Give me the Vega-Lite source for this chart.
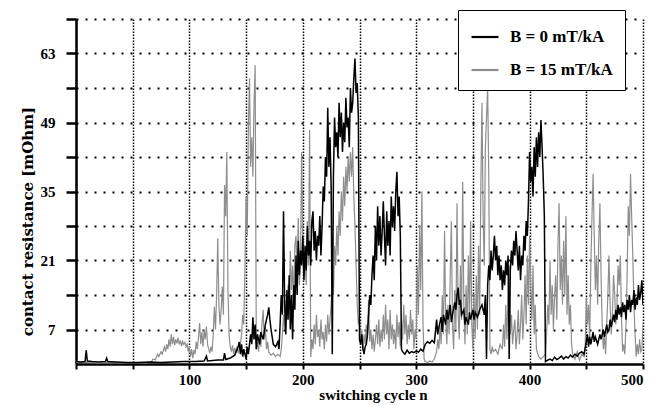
{
  "$schema": "https://vega.github.io/schema/vega-lite/v6.json",
  "width": 567,
  "height": 345,
  "autosize": {"type": "none"},
  "padding": {"left": 76, "top": 19, "right": 9, "bottom": 41},
  "background": "white",
  "config": {"view": {"stroke": null}},
  "datasets": {
    "b0": [
      {"n":0,"r":0.5},{"n":4,"r":0.4},{"n":8,"r":0.5},{"n":9,"r":2.8},{"n":10,"r":0.6},{"n":14,"r":0.5},{"n":20,"r":0.4},{"n":26,"r":0.5},{"n":27,"r":1.2},{"n":28,"r":0.5},{"n":35,"r":0.4},{"n":45,"r":0.3},{"n":55,"r":0.3},{"n":65,"r":0.4},{"n":75,"r":0.3},{"n":85,"r":0.4},{"n":95,"r":0.5},{"n":105,"r":0.5},{"n":113,"r":0.6},{"n":115,"r":1.6},{"n":116,"r":0.6},{"n":125,"r":0.8},{"n":130,"r":0.8},{"n":131,"r":2.2},{"n":132,"r":0.9},{"n":136,"r":1.2},{"n":140,"r":1.8},{"n":143,"r":3.5},{"n":144,"r":4.5},{"n":145,"r":2.0},{"n":146,"r":4.0},{"n":147,"r":1.5},{"n":148,"r":3.0},{"n":150,"r":1.0},{"n":151,"r":3.5},{"n":152,"r":2.0},{"n":154,"r":6.0},{"n":155,"r":4.0},{"n":156,"r":9.5},{"n":157,"r":5.0},{"n":158,"r":8.0},{"n":159,"r":3.0},{"n":160,"r":6.0},{"n":162,"r":4.0},{"n":163,"r":6.5},{"n":165,"r":5.0},{"n":167,"r":8.0},{"n":169,"r":10.0},{"n":170,"r":11.5},{"n":171,"r":9.0},{"n":172,"r":7.0},{"n":174,"r":4.0},{"n":176,"r":3.5},{"n":178,"r":4.5},{"n":179,"r":3.0},{"n":180,"r":8.0},{"n":181,"r":14.0},{"n":182,"r":10.0},{"n":183,"r":31.0},{"n":184,"r":12.0},{"n":185,"r":6.0},{"n":186,"r":15.0},{"n":187,"r":9.0},{"n":188,"r":18.0},{"n":189,"r":7.0},{"n":190,"r":14.0},{"n":191,"r":5.0},{"n":192,"r":16.0},{"n":193,"r":11.0},{"n":194,"r":22.0},{"n":195,"r":14.0},{"n":196,"r":25.0},{"n":197,"r":18.0},{"n":198,"r":23.0},{"n":199,"r":20.0},{"n":200,"r":26.0},{"n":201,"r":17.0},{"n":202,"r":24.0},{"n":203,"r":19.0},{"n":204,"r":28.0},{"n":205,"r":22.0},{"n":206,"r":25.0},{"n":207,"r":20.0},{"n":208,"r":29.0},{"n":209,"r":31.0},{"n":210,"r":23.0},{"n":211,"r":27.0},{"n":212,"r":21.0},{"n":213,"r":26.0},{"n":214,"r":24.0},{"n":215,"r":30.0},{"n":216,"r":22.0},{"n":217,"r":28.0},{"n":218,"r":36.0},{"n":219,"r":33.0},{"n":220,"r":42.0},{"n":221,"r":38.0},{"n":222,"r":52.0},{"n":223,"r":40.0},{"n":224,"r":46.0},{"n":225,"r":36.0},{"n":226,"r":2.0},{"n":227,"r":38.0},{"n":228,"r":50.0},{"n":229,"r":44.0},{"n":230,"r":47.0},{"n":231,"r":42.0},{"n":232,"r":53.0},{"n":233,"r":46.0},{"n":234,"r":51.0},{"n":235,"r":43.0},{"n":236,"r":49.0},{"n":237,"r":45.0},{"n":238,"r":54.0},{"n":239,"r":48.0},{"n":240,"r":50.0},{"n":241,"r":44.0},{"n":242,"r":56.0},{"n":243,"r":51.0},{"n":244,"r":53.0},{"n":245,"r":58.0},{"n":246,"r":62.0},{"n":247,"r":55.0},{"n":248,"r":57.0},{"n":249,"r":50.0},{"n":250,"r":5.0},{"n":251,"r":4.0},{"n":252,"r":6.0},{"n":253,"r":3.0},{"n":254,"r":2.0},{"n":255,"r":3.5},{"n":256,"r":4.0},{"n":257,"r":6.0},{"n":258,"r":10.0},{"n":259,"r":14.0},{"n":260,"r":12.0},{"n":261,"r":18.0},{"n":262,"r":22.0},{"n":263,"r":17.0},{"n":264,"r":28.0},{"n":265,"r":21.0},{"n":266,"r":32.0},{"n":267,"r":24.0},{"n":268,"r":30.0},{"n":269,"r":22.0},{"n":270,"r":27.0},{"n":271,"r":33.0},{"n":272,"r":26.0},{"n":273,"r":20.0},{"n":274,"r":31.0},{"n":275,"r":24.0},{"n":276,"r":29.0},{"n":277,"r":22.0},{"n":278,"r":34.0},{"n":279,"r":28.0},{"n":280,"r":32.0},{"n":281,"r":27.0},{"n":282,"r":35.0},{"n":283,"r":39.0},{"n":284,"r":30.0},{"n":285,"r":34.0},{"n":286,"r":26.0},{"n":287,"r":3.0},{"n":288,"r":2.5},{"n":290,"r":2.0},{"n":292,"r":2.8},{"n":294,"r":2.2},{"n":296,"r":2.5},{"n":298,"r":2.3},{"n":300,"r":2.6},{"n":302,"r":2.4},{"n":304,"r":3.0},{"n":306,"r":2.6},{"n":308,"r":4.0},{"n":310,"r":4.5},{"n":312,"r":4.2},{"n":314,"r":4.8},{"n":316,"r":4.3},{"n":318,"r":9.0},{"n":319,"r":6.0},{"n":320,"r":7.5},{"n":322,"r":9.5},{"n":323,"r":6.5},{"n":324,"r":10.0},{"n":326,"r":8.0},{"n":327,"r":11.0},{"n":328,"r":9.0},{"n":330,"r":12.0},{"n":331,"r":8.5},{"n":332,"r":10.0},{"n":334,"r":12.5},{"n":335,"r":11.0},{"n":336,"r":14.0},{"n":337,"r":15.5},{"n":338,"r":12.0},{"n":339,"r":13.0},{"n":340,"r":10.0},{"n":342,"r":11.0},{"n":343,"r":8.0},{"n":344,"r":9.5},{"n":346,"r":8.0},{"n":347,"r":10.5},{"n":348,"r":9.0},{"n":350,"r":11.0},{"n":351,"r":9.0},{"n":352,"r":10.5},{"n":354,"r":9.5},{"n":356,"r":11.0},{"n":358,"r":12.0},{"n":360,"r":10.0},{"n":361,"r":14.0},{"n":362,"r":1.0},{"n":363,"r":16.0},{"n":364,"r":20.0},{"n":365,"r":17.0},{"n":366,"r":23.0},{"n":367,"r":19.0},{"n":368,"r":22.0},{"n":369,"r":26.0},{"n":370,"r":21.0},{"n":371,"r":24.0},{"n":372,"r":18.0},{"n":373,"r":22.0},{"n":374,"r":17.0},{"n":375,"r":20.0},{"n":376,"r":15.0},{"n":377,"r":19.0},{"n":378,"r":16.0},{"n":379,"r":21.0},{"n":380,"r":18.0},{"n":381,"r":22.0},{"n":382,"r":1.0},{"n":383,"r":19.0},{"n":384,"r":23.0},{"n":385,"r":20.0},{"n":386,"r":25.0},{"n":387,"r":22.0},{"n":388,"r":27.0},{"n":389,"r":23.0},{"n":390,"r":19.0},{"n":391,"r":24.0},{"n":392,"r":17.0},{"n":393,"r":22.0},{"n":394,"r":20.0},{"n":395,"r":26.0},{"n":396,"r":23.0},{"n":397,"r":29.0},{"n":398,"r":26.0},{"n":399,"r":33.0},{"n":400,"r":43.0},{"n":401,"r":37.0},{"n":402,"r":40.0},{"n":403,"r":34.0},{"n":404,"r":44.0},{"n":405,"r":38.0},{"n":406,"r":46.0},{"n":407,"r":40.0},{"n":408,"r":47.0},{"n":409,"r":42.0},{"n":410,"r":49.5},{"n":411,"r":44.0},{"n":412,"r":38.0},{"n":413,"r":30.0},{"n":414,"r":0.5},{"n":416,"r":0.8},{"n":418,"r":1.0},{"n":420,"r":0.7},{"n":422,"r":1.4},{"n":424,"r":0.9},{"n":426,"r":1.2},{"n":428,"r":1.6},{"n":430,"r":1.0},{"n":432,"r":1.5},{"n":434,"r":1.2},{"n":436,"r":1.8},{"n":438,"r":1.4},{"n":440,"r":2.0},{"n":442,"r":1.6},{"n":444,"r":2.2},{"n":446,"r":2.5},{"n":448,"r":2.0},{"n":450,"r":4.5},{"n":451,"r":6.0},{"n":452,"r":3.5},{"n":453,"r":5.5},{"n":454,"r":4.0},{"n":456,"r":6.5},{"n":457,"r":4.5},{"n":458,"r":5.5},{"n":460,"r":4.0},{"n":462,"r":6.0},{"n":463,"r":5.0},{"n":465,"r":7.0},{"n":466,"r":5.5},{"n":468,"r":8.0},{"n":469,"r":6.5},{"n":470,"r":7.0},{"n":471,"r":9.0},{"n":472,"r":7.5},{"n":474,"r":10.0},{"n":475,"r":8.5},{"n":476,"r":11.0},{"n":477,"r":9.0},{"n":478,"r":12.0},{"n":479,"r":10.0},{"n":480,"r":11.5},{"n":481,"r":9.5},{"n":482,"r":12.5},{"n":483,"r":10.5},{"n":484,"r":12.0},{"n":485,"r":9.0},{"n":486,"r":13.0},{"n":487,"r":11.0},{"n":488,"r":14.0},{"n":489,"r":10.5},{"n":490,"r":13.0},{"n":491,"r":12.0},{"n":492,"r":15.0},{"n":493,"r":11.0},{"n":494,"r":13.5},{"n":495,"r":12.0},{"n":496,"r":16.0},{"n":497,"r":13.0},{"n":498,"r":14.5},{"n":499,"r":17.0},{"n":500,"r":12.0}
    ],
    "b15": [
      {"n":0,"r":0.3},{"n":10,"r":0.3},{"n":20,"r":0.2},{"n":30,"r":0.3},{"n":40,"r":0.2},{"n":50,"r":0.3},{"n":60,"r":0.2},{"n":66,"r":0.3},{"n":68,"r":1.0},{"n":70,"r":0.8},{"n":72,"r":2.0},{"n":73,"r":1.5},{"n":75,"r":2.5},{"n":76,"r":2.0},{"n":78,"r":3.5},{"n":79,"r":2.5},{"n":80,"r":4.0},{"n":81,"r":3.0},{"n":82,"r":5.0},{"n":83,"r":3.5},{"n":84,"r":6.0},{"n":85,"r":4.0},{"n":86,"r":5.5},{"n":87,"r":3.8},{"n":88,"r":5.0},{"n":89,"r":4.2},{"n":90,"r":5.3},{"n":91,"r":4.0},{"n":92,"r":4.8},{"n":93,"r":3.6},{"n":94,"r":4.6},{"n":95,"r":4.0},{"n":96,"r":4.4},{"n":97,"r":3.5},{"n":98,"r":4.0},{"n":99,"r":2.5},{"n":100,"r":3.5},{"n":101,"r":1.5},{"n":102,"r":3.0},{"n":103,"r":1.2},{"n":104,"r":2.8},{"n":105,"r":2.0},{"n":106,"r":4.5},{"n":107,"r":3.0},{"n":108,"r":5.5},{"n":109,"r":8.3},{"n":110,"r":4.0},{"n":111,"r":6.5},{"n":112,"r":3.5},{"n":113,"r":7.0},{"n":114,"r":5.0},{"n":115,"r":7.6},{"n":116,"r":4.0},{"n":117,"r":3.0},{"n":118,"r":2.2},{"n":119,"r":3.5},{"n":120,"r":2.5},{"n":121,"r":6.0},{"n":122,"r":11.6},{"n":123,"r":7.0},{"n":124,"r":14.0},{"n":125,"r":25.5},{"n":126,"r":12.0},{"n":127,"r":8.0},{"n":128,"r":11.0},{"n":129,"r":15.7},{"n":130,"r":10.0},{"n":131,"r":36.3},{"n":132,"r":30.0},{"n":133,"r":43.0},{"n":134,"r":15.0},{"n":135,"r":6.0},{"n":136,"r":3.5},{"n":137,"r":2.5},{"n":138,"r":3.8},{"n":139,"r":2.0},{"n":140,"r":3.2},{"n":141,"r":2.4},{"n":142,"r":3.6},{"n":143,"r":2.2},{"n":144,"r":3.0},{"n":145,"r":4.0},{"n":146,"r":6.0},{"n":147,"r":10.0},{"n":148,"r":8.0},{"n":149,"r":20.0},{"n":150,"r":34.0},{"n":151,"r":26.0},{"n":152,"r":48.0},{"n":153,"r":58.0},{"n":154,"r":40.0},{"n":155,"r":46.0},{"n":156,"r":38.0},{"n":157,"r":53.0},{"n":158,"r":60.6},{"n":159,"r":3.0},{"n":160,"r":4.5},{"n":161,"r":2.5},{"n":162,"r":6.0},{"n":163,"r":3.5},{"n":164,"r":8.0},{"n":165,"r":11.0},{"n":166,"r":5.0},{"n":167,"r":7.5},{"n":168,"r":3.0},{"n":169,"r":4.5},{"n":170,"r":2.4},{"n":172,"r":1.8},{"n":174,"r":2.2},{"n":176,"r":1.5},{"n":178,"r":2.0},{"n":180,"r":1.5},{"n":181,"r":3.0},{"n":182,"r":6.0},{"n":183,"r":10.0},{"n":184,"r":7.0},{"n":185,"r":13.0},{"n":186,"r":9.0},{"n":187,"r":16.0},{"n":188,"r":12.0},{"n":189,"r":23.0},{"n":190,"r":15.0},{"n":191,"r":20.0},{"n":192,"r":12.0},{"n":193,"r":24.0},{"n":194,"r":26.0},{"n":195,"r":18.0},{"n":196,"r":29.6},{"n":197,"r":16.0},{"n":198,"r":22.0},{"n":199,"r":43.0},{"n":200,"r":24.0},{"n":201,"r":18.0},{"n":202,"r":22.0},{"n":203,"r":16.0},{"n":204,"r":29.0},{"n":205,"r":20.0},{"n":206,"r":47.5},{"n":207,"r":1.4},{"n":208,"r":5.0},{"n":209,"r":3.0},{"n":210,"r":8.0},{"n":211,"r":4.0},{"n":212,"r":10.0},{"n":213,"r":5.5},{"n":214,"r":7.0},{"n":215,"r":3.5},{"n":216,"r":9.0},{"n":217,"r":5.0},{"n":218,"r":6.5},{"n":219,"r":3.0},{"n":220,"r":8.0},{"n":221,"r":4.5},{"n":222,"r":10.0},{"n":223,"r":6.0},{"n":224,"r":9.0},{"n":225,"r":12.0},{"n":226,"r":18.0},{"n":227,"r":14.0},{"n":228,"r":24.0},{"n":229,"r":20.0},{"n":230,"r":28.0},{"n":231,"r":22.0},{"n":232,"r":31.0},{"n":233,"r":26.0},{"n":234,"r":35.0},{"n":235,"r":29.0},{"n":236,"r":38.0},{"n":237,"r":32.0},{"n":238,"r":40.0},{"n":239,"r":35.0},{"n":240,"r":42.0},{"n":241,"r":37.0},{"n":242,"r":43.0},{"n":243,"r":38.0},{"n":244,"r":44.0},{"n":245,"r":34.0},{"n":246,"r":28.0},{"n":247,"r":20.0},{"n":248,"r":12.0},{"n":249,"r":8.0},{"n":250,"r":9.5},{"n":251,"r":5.0},{"n":252,"r":7.0},{"n":253,"r":3.0},{"n":254,"r":6.0},{"n":255,"r":4.0},{"n":256,"r":8.0},{"n":257,"r":5.0},{"n":258,"r":13.0},{"n":259,"r":4.5},{"n":260,"r":7.0},{"n":261,"r":3.0},{"n":262,"r":6.0},{"n":263,"r":2.5},{"n":264,"r":5.0},{"n":265,"r":8.0},{"n":266,"r":4.0},{"n":267,"r":9.0},{"n":268,"r":3.5},{"n":269,"r":7.0},{"n":270,"r":4.5},{"n":271,"r":10.0},{"n":272,"r":5.0},{"n":273,"r":12.0},{"n":274,"r":6.0},{"n":275,"r":9.0},{"n":276,"r":3.0},{"n":277,"r":11.0},{"n":278,"r":5.0},{"n":279,"r":8.0},{"n":280,"r":4.0},{"n":281,"r":7.0},{"n":282,"r":3.0},{"n":283,"r":10.0},{"n":284,"r":5.5},{"n":285,"r":8.5},{"n":286,"r":3.5},{"n":287,"r":9.0},{"n":288,"r":5.0},{"n":289,"r":12.0},{"n":290,"r":6.0},{"n":291,"r":10.0},{"n":292,"r":4.0},{"n":293,"r":8.0},{"n":294,"r":5.0},{"n":295,"r":11.0},{"n":296,"r":6.0},{"n":297,"r":9.0},{"n":298,"r":3.0},{"n":299,"r":7.0},{"n":300,"r":5.0},{"n":301,"r":20.0},{"n":302,"r":10.0},{"n":303,"r":28.0},{"n":304,"r":15.0},{"n":305,"r":35.0},{"n":306,"r":8.0},{"n":307,"r":1.0},{"n":308,"r":0.5},{"n":310,"r":0.3},{"n":312,"r":0.6},{"n":314,"r":0.4},{"n":316,"r":1.0},{"n":318,"r":2.5},{"n":319,"r":5.0},{"n":320,"r":3.0},{"n":321,"r":8.0},{"n":322,"r":4.0},{"n":323,"r":14.0},{"n":324,"r":6.0},{"n":325,"r":27.0},{"n":326,"r":9.0},{"n":327,"r":4.0},{"n":328,"r":12.0},{"n":329,"r":6.0},{"n":330,"r":18.0},{"n":331,"r":29.0},{"n":332,"r":8.0},{"n":333,"r":3.0},{"n":334,"r":15.0},{"n":335,"r":7.0},{"n":336,"r":32.6},{"n":337,"r":10.0},{"n":338,"r":5.0},{"n":339,"r":20.0},{"n":340,"r":9.0},{"n":341,"r":37.0},{"n":342,"r":12.0},{"n":343,"r":4.0},{"n":344,"r":16.0},{"n":345,"r":6.0},{"n":346,"r":22.0},{"n":347,"r":10.0},{"n":348,"r":29.0},{"n":349,"r":8.0},{"n":350,"r":3.0},{"n":351,"r":14.0},{"n":352,"r":5.0},{"n":353,"r":18.0},{"n":354,"r":7.0},{"n":355,"r":24.0},{"n":356,"r":10.0},{"n":357,"r":36.0},{"n":358,"r":53.0},{"n":359,"r":30.0},{"n":360,"r":20.0},{"n":361,"r":44.0},{"n":362,"r":50.0},{"n":363,"r":56.0},{"n":364,"r":38.0},{"n":365,"r":3.0},{"n":366,"r":2.0},{"n":367,"r":3.5},{"n":368,"r":2.5},{"n":370,"r":3.0},{"n":372,"r":2.0},{"n":374,"r":4.0},{"n":376,"r":3.0},{"n":377,"r":8.0},{"n":378,"r":3.5},{"n":379,"r":12.0},{"n":380,"r":5.0},{"n":381,"r":14.0},{"n":382,"r":20.0},{"n":383,"r":6.0},{"n":384,"r":10.0},{"n":385,"r":4.0},{"n":386,"r":7.0},{"n":387,"r":9.0},{"n":388,"r":3.0},{"n":389,"r":6.0},{"n":390,"r":11.0},{"n":391,"r":4.0},{"n":392,"r":8.0},{"n":393,"r":14.0},{"n":394,"r":5.0},{"n":395,"r":10.0},{"n":396,"r":18.0},{"n":397,"r":8.0},{"n":398,"r":22.0},{"n":399,"r":12.0},{"n":400,"r":26.0},{"n":401,"r":16.0},{"n":402,"r":9.0},{"n":403,"r":20.0},{"n":404,"r":6.0},{"n":405,"r":12.0},{"n":406,"r":3.0},{"n":408,"r":1.5},{"n":410,"r":1.0},{"n":412,"r":1.5},{"n":414,"r":2.0},{"n":415,"r":6.0},{"n":416,"r":12.0},{"n":417,"r":8.0},{"n":418,"r":21.0},{"n":419,"r":10.0},{"n":420,"r":16.0},{"n":421,"r":7.0},{"n":422,"r":13.7},{"n":423,"r":18.0},{"n":424,"r":9.0},{"n":425,"r":24.0},{"n":426,"r":32.6},{"n":427,"r":15.0},{"n":428,"r":22.0},{"n":429,"r":12.0},{"n":430,"r":25.0},{"n":431,"r":14.0},{"n":432,"r":30.0},{"n":433,"r":10.0},{"n":434,"r":18.0},{"n":435,"r":8.0},{"n":436,"r":12.0},{"n":437,"r":4.0},{"n":438,"r":2.0},{"n":440,"r":1.0},{"n":442,"r":2.5},{"n":444,"r":0.8},{"n":446,"r":2.0},{"n":448,"r":1.5},{"n":449,"r":3.0},{"n":450,"r":13.5},{"n":451,"r":8.0},{"n":452,"r":12.0},{"n":453,"r":5.0},{"n":454,"r":20.0},{"n":455,"r":30.0},{"n":456,"r":38.6},{"n":457,"r":26.0},{"n":458,"r":15.0},{"n":459,"r":22.0},{"n":460,"r":12.0},{"n":461,"r":25.0},{"n":462,"r":32.6},{"n":463,"r":18.0},{"n":464,"r":8.0},{"n":465,"r":3.0},{"n":466,"r":6.0},{"n":467,"r":2.0},{"n":468,"r":8.0},{"n":469,"r":14.0},{"n":470,"r":22.0},{"n":471,"r":12.0},{"n":472,"r":6.0},{"n":473,"r":10.0},{"n":474,"r":18.0},{"n":475,"r":14.5},{"n":476,"r":8.0},{"n":477,"r":12.0},{"n":478,"r":20.0},{"n":479,"r":16.0},{"n":480,"r":22.0},{"n":481,"r":10.0},{"n":482,"r":2.5},{"n":483,"r":4.0},{"n":484,"r":2.0},{"n":485,"r":8.0},{"n":486,"r":18.0},{"n":487,"r":32.0},{"n":488,"r":26.0},{"n":489,"r":38.6},{"n":490,"r":30.0},{"n":491,"r":22.0},{"n":492,"r":12.0},{"n":493,"r":6.0},{"n":494,"r":1.5},{"n":495,"r":4.0},{"n":496,"r":2.0},{"n":497,"r":5.0},{"n":498,"r":2.5},{"n":499,"r":3.0},{"n":500,"r":8.0}
    ]
  },
  "encoding": {
    "x": {
      "field": "n", "type": "quantitative",
      "scale": {"domain": [0, 500], "nice": false, "zero": false},
      "axis": {
        "values": [0, 50, 100, 150, 200, 250, 300, 350, 400, 450, 500],
        "labelExpr": "datum.value % 100 == 0 && datum.value > 0 ? datum.label : ''",
        "grid": true, "gridColor": "#000000", "gridDash": [1.5, 1.5], "gridWidth": 1.5, "gridOpacity": 1,
        "domainColor": "#000000", "domainWidth": 2.5,
        "tickColor": "#000000", "tickWidth": 2, "tickSize": 5,
        "labelFont": "Liberation Serif", "labelFontWeight": "bold", "labelFontSize": 15, "labelColor": "#000000", "labelPadding": 3,
        "labelFlush": true, "labelOverlap": false,
        "title": "switching cycle n",
        "titleFont": "Liberation Serif", "titleFontWeight": "bold", "titleFontSize": 15, "titleColor": "#000000",
        "titleX": 297, "titleY": 35, "titleBaseline": "alphabetic"
      }
    },
    "y": {
      "field": "r", "type": "quantitative",
      "scale": {"domain": [0, 70], "nice": false},
      "axis": {
        "values": [7, 14, 21, 28, 35, 42, 49, 56, 63, 70],
        "labelExpr": "datum.value % 14 == 7 ? datum.label : ''",
        "grid": true, "gridColor": "#000000", "gridDash": [2, 7], "gridWidth": 2, "gridOpacity": 1,
        "domainColor": "#000000", "domainWidth": 2.5,
        "tickColor": "#000000", "tickWidth": 2.5, "tickSize": 10,
        "labelFont": "Liberation Serif", "labelFontWeight": "bold", "labelFontSize": 15, "labelColor": "#000000", "labelPadding": 11,
        "labelOverlap": false,
        "title": "contact resistance [mOhm]",
        "titleFont": "DejaVu Serif", "titleFontWeight": "bold", "titleFontSize": 15, "titleColor": "#000000",
        "titleX": -44, "titleY": 202, "titleBaseline": "alphabetic"
      }
    }
  },
  "layer": [
    {
      "data": {"name": "b15"},
      "mark": {"type": "line", "strokeWidth": 1.2, "clip": true},
      "encoding": {
        "color": {
          "datum": "B = 15 mT/kA",
          "type": "nominal",
          "scale": {"domain": ["B = 0 mT/kA", "B = 15 mT/kA"], "range": ["#000000", "#8e8e8e"]},
          "legend": {
            "title": null,
            "orient": "none", "legendX": 382, "legendY": -9,
            "symbolType": "stroke", "symbolSize": 729, "symbolStrokeWidth": 2.2,
            "labelFont": "Liberation Serif", "labelFontWeight": "bold", "labelFontSize": 17, "labelColor": "#000000",
            "labelOffset": 10, "rowPadding": 10,
            "padding": 12, "strokeColor": "#000000", "fillColor": "#ffffff", "cornerRadius": 0
          }
        }
      }
    },
    {
      "data": {"name": "b0"},
      "mark": {"type": "line", "strokeWidth": 1.5, "clip": true},
      "encoding": {
        "color": {"datum": "B = 0 mT/kA", "type": "nominal"}
      }
    }
  ]
}
